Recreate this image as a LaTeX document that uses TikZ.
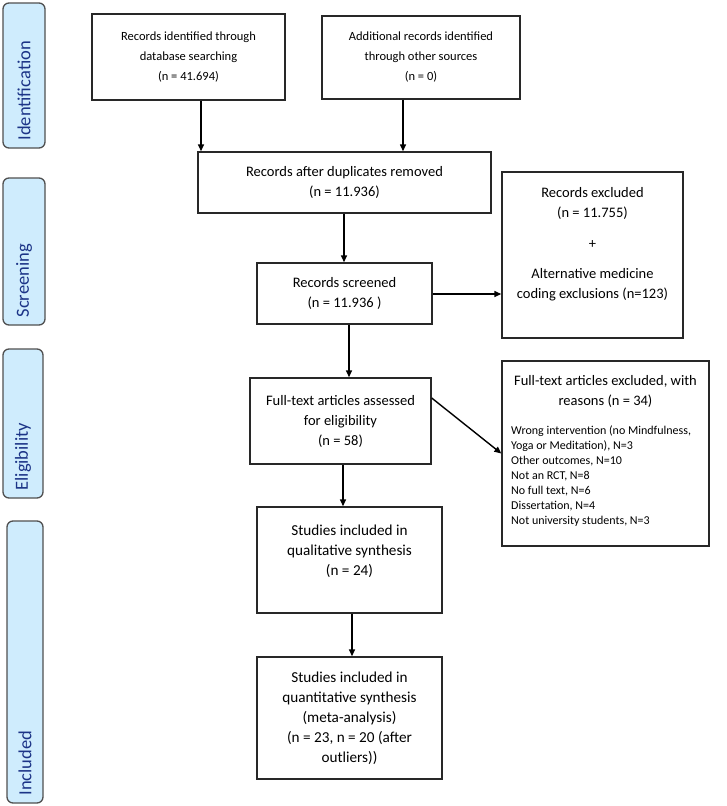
\documentclass[tikz,border=0pt]{standalone}
\usepackage{fontspec}
\setmainfont{Carlito}
\usetikzlibrary{arrows.meta}
\definecolor{sidefill}{RGB}{207,236,253}
\definecolor{sidetextcol}{RGB}{28,52,135}
\definecolor{boxline}{RGB}{40,40,40}
\definecolor{sideline}{RGB}{80,80,80}
\newcommand\mainfnt{\fontsize{14.5}{20}\selectfont}
\newcommand\topfnt{\fontsize{12.5}{20}\selectfont}
\newcommand\bigfnt{\fontsize{15.2}{20}\selectfont}
\newcommand\listfnt{\fontsize{12}{15}\selectfont}
\newcommand\sidefnt{\fontsize{18.5}{20}\selectfont}
\begin{document}
\begin{tikzpicture}[x=1pt,y=-1pt,
  box/.style={draw=boxline, line width=1.4pt, inner sep=0pt, align=center, font=\mainfnt},
  txt/.style={inner sep=0pt, align=center, font=\mainfnt},
  sidebox/.style={draw=sideline, line width=1.3pt, fill=sidefill, rounded corners=6pt, inner sep=0pt},
  sidetxt/.style={inner sep=0pt, text=sidetextcol, font=\sidefnt},
  arr/.style={line width=1.4pt, -{Triangle[length=7pt,width=6pt]}}]
\useasboundingbox (0,0) rectangle (727,806);

% side labels
\node[sidebox, minimum width=42pt, minimum height=145pt] (sI) at (24,75.5) {};
\node[sidetxt, rotate=90, anchor=west] (tI) at ([yshift=8pt]sI.south) {Identification};
\node[sidebox, minimum width=42pt, minimum height=147pt] (sS) at (24,251.5) {};
\node[sidetxt, rotate=90, anchor=west] (tS) at ([yshift=8pt]sS.south) {Screening};
\node[sidebox, minimum width=40pt, minimum height=149pt] (sE) at (23,423.5) {};
\node[sidetxt, rotate=90, anchor=west] (tE) at ([yshift=8pt]sE.south) {Eligibility};
\node[sidebox, minimum width=36pt, minimum height=282pt] (sN) at (25,662) {};
\node[sidetxt, rotate=90, anchor=west] (tN) at ([yshift=8pt]sN.south) {Included};

% main boxes
\node[box, font=\topfnt, minimum width=193pt, minimum height=86pt] (b1) at (188.5,57)
  {Records identified through\\database searching\\(n = 41.694)};
\node[box, font=\topfnt, minimum width=198pt, minimum height=83pt] (b2) at (421,57.5)
  {Additional records identified\\through other sources\\(n = 0)};
\node[box, minimum width=293pt, minimum height=61pt] (b3) at (344.5,182.5)
  {Records after duplicates removed\\(n = 11.936)};
\node[box, minimum width=175pt, minimum height=61pt] (b4) at (344.5,293.5)
  {Records screened\\(n = 11.936 )};
\node[box, minimum width=181pt, minimum height=166pt] (e1) at (592.5,255) {};
\node[txt] (e1t) at ([yshift=10.5pt]e1.center)
  {Records excluded\\(n = 11.755)\\[11pt]+\\[10pt]Alternative medicine\\coding exclusions (n=123)};
\node[box, minimum width=181pt, minimum height=86pt] (b5) at (340.5,421)
  {Full-text articles assessed\\for eligibility\\(n = 58)};
\node[box, minimum width=207pt, minimum height=185pt] (e2) at (605.5,453.5) {};
\node[txt, anchor=north] (e2t) at (605.5,375)
  {Full-text articles excluded, with\\reasons (n = 34)};
\node[txt, align=left, font=\listfnt, anchor=north west] (e2l) at (511,426)
  {Wrong intervention (no Mindfulness,\\Yoga or Meditation), N=3\\Other outcomes, N=10\\Not an RCT, N=8\\No full text, N=6\\Dissertation, N=4\\Not university students, N=3};
\node[box, font=\bigfnt, minimum width=185pt, minimum height=106pt] (b6) at (349.5,560)
  {Studies included in\\qualitative synthesis\\(n = 24)\\\mbox{}};
\node[box, font=\bigfnt, minimum width=185pt, minimum height=122pt] (b7) at (349.5,718)
  {Studies included in\\quantitative synthesis\\(meta-analysis)\\(n = 23, n = 20 (after\\outliers))};

% connectors
\draw[arr] ([xshift=12.5pt]b1.south) -- ([xshift=12.5pt]b1.south |- b3.north);
\draw[arr] ([xshift=-18pt]b2.south) -- ([xshift=-18pt]b2.south |- b3.north);
\draw[arr] ([xshift=-0.5pt]b3.south) -- ([xshift=-0.5pt]b3.south |- b4.north);
\draw[arr] ([yshift=-0.5pt]b4.east) -- ([yshift=-0.5pt]b4.east -| e1.west);
\draw[arr] ([xshift=4.5pt]b4.south) -- ([xshift=4.5pt]b4.south |- b5.north);
\draw[arr] ([yshift=23pt]b5.east) -- (e2.west);
\draw[arr] ([xshift=2.5pt]b5.south) -- ([xshift=2.5pt]b5.south |- b6.north);
\draw[arr] ([xshift=2.5pt]b6.south) -- ([xshift=2.5pt]b6.south |- b7.north);
\end{tikzpicture}
\end{document}
